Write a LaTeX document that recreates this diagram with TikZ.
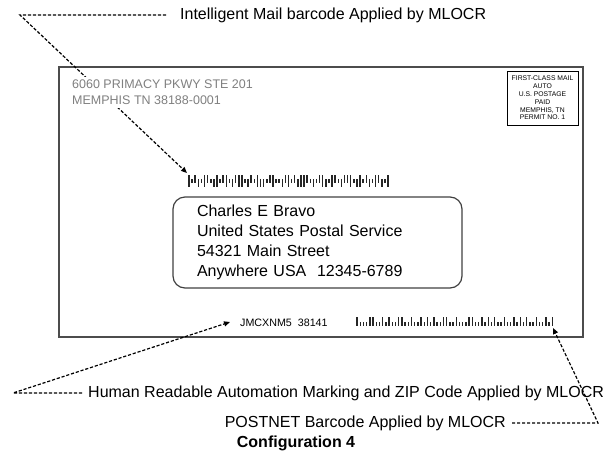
\documentclass[tikz,border=0pt]{standalone}
\usepackage{fontspec}
\setmainfont{Liberation Sans}
\usetikzlibrary{arrows.meta}

\begin{document}
\begin{tikzpicture}[x=1pt, y=-1pt,
    leader/.style={dash pattern=on 3.2pt off 1.8pt, line width=1.2pt},
    tip/.style={-{Triangle[length=6pt,width=5pt]}},
    callout/.style={font=\fontsize{16}{19}\selectfont, inner xsep=6pt, inner ysep=2pt}]
      \useasboundingbox (0,0) rectangle (615,458);

      \draw [line width=1.2pt, black!70] (59,67) rectangle (583,337);

      \node [callout, anchor=west] (imblabel) at (174,15) {Intelligent Mail barcode Applied by MLOCR};
      \coordinate (imbbend) at (20,15);
      \coordinate (imbtip) at (187,173);
      \draw [leader, tip] ([xshift=-8pt]imblabel.west) -- (imbbend) -- (imbtip);

      \node [fill=white, anchor=north west, align=left, text=black!50, inner sep=3pt,
             font=\fontsize{12.5}{15.5}\selectfont] (return) at (69,77)
            {6060 PRIMACY PKWY STE 201\\MEMPHIS TN 38188-0001};

      \node [draw, line width=0.8pt, minimum width=71pt, minimum height=54pt, align=center,
             inner sep=1pt, font=\fontsize{6.8}{7.8}\selectfont] (permit) at (542.5,98)
            {FIRST-CLASS MAIL\\AUTO\\U.S. POSTAGE\\PAID\\MEMPHIS, TN\\PERMIT NO. 1};

      % 0 tracker, 1 ascender, 2 descender, 3 full
      \foreach \s [count=\i from 0] in {3,0,1,2,0,3,1,0,2,3,0,1,3,0,2,1,3,3,0,2,1,0,3,2,2,0,1,3,0,0,
                                        2,1,3,0,1,2,3,3,1,0,2,0,1,3,2,0,3,1,0,2,1,1,3,0,2,3,0,1,2,0,
                                        3,1,2,0,3} {
        \pgfmathsetmacro\bartop{175+4*(1-mod(\s,2))}
        \pgfmathsetmacro\barbot{183+4*floor(\s/2)}
        \draw [line width=1.5pt, black!85] (189+3.11*\i,\bartop) -- (189+3.11*\i,\barbot);
      }

      \node [draw=black!75, line width=1.2pt, rounded corners=12pt, minimum width=289pt,
             minimum height=91pt, text width=241pt, inner xsep=24pt, align=left,
             font=\fontsize{16}{20}\selectfont] (address) at (317.5,242.5)
            {Charles E Bravo\\United States Postal Service\\54321 Main Street\\Anywhere USA\ \ 12345-6789};

      \node [anchor=west, inner sep=0pt, font=\fontsize{10.7}{12}\selectfont] (hrline) at (240,323) {JMCXNM5\ \ 38141};

      \foreach \b [count=\i from 0] in {1,0,0,0,1,1,0,0,1,0,1,0,0,1,1,0,0,1,0,0,1,0,1,0,1,0,0,1,1,0,0,
                                        1,0,0,0,1,1,0,0,1,0,1,0,1,0,0,1,0,0,1,0,1,0,1,0,0,1,0,0,1,0,1} {
        \pgfmathsetmacro\bartop{322-5*\b}
        \draw [line width=1.4pt, black!85] (357+3.2*\i,\bartop) -- (357+3.2*\i,326);
      }

      \node [callout, anchor=west] (hrlabel) at (82,393) {Human Readable Automation Marking and ZIP Code Applied by MLOCR};
      \coordinate (hrbend) at (13,393);
      \coordinate (hrtip) at (230,322);
      \draw [leader, tip] (hrlabel.west) -- (hrbend) -- (hrtip);

      \node [callout, anchor=east] (pnlabel) at (512,423) {POSTNET Barcode Applied by MLOCR};
      \coordinate (pnbend) at (598,423);
      \coordinate (pntip) at (553,328);
      \draw [leader, tip] (pnlabel.east) -- (pnbend) -- (pntip);

      \node [font=\fontsize{16}{19}\selectfont\bfseries] (caption) at (296,443) {Configuration 4};
   \end{tikzpicture}
\end{document}
